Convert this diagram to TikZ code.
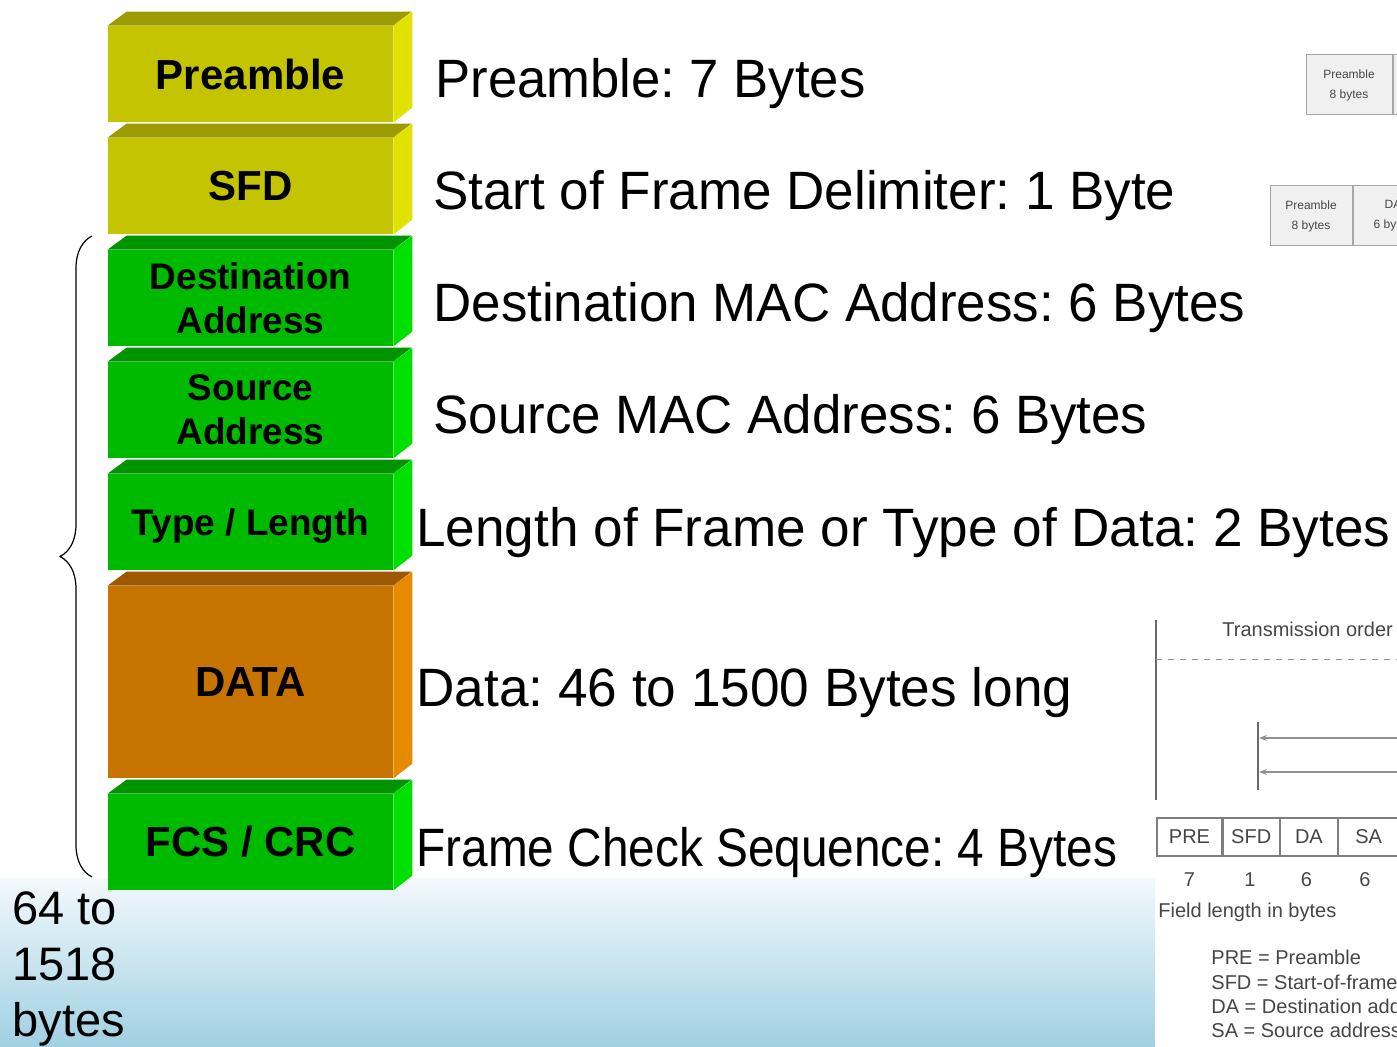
\documentclass[tikz,border=0pt]{standalone}
\usepackage{fontspec}
\setmainfont{Liberation Sans}
\usepackage{graphicx}
\usetikzlibrary{decorations.pathreplacing,arrows.meta}

\definecolor{yelF}{RGB}{196,196,0}
\definecolor{yelT}{RGB}{156,156,0}
\definecolor{yelR}{RGB}{226,226,0}
\definecolor{grnF}{RGB}{0,186,0}
\definecolor{grnT}{RGB}{0,148,0}
\definecolor{grnR}{RGB}{0,224,0}
\definecolor{orgF}{RGB}{199,116,0}
\definecolor{orgT}{RGB}{158,88,0}
\definecolor{orgR}{RGB}{230,138,0}
\definecolor{scan}{RGB}{70,70,70}
\definecolor{skyA}{RGB}{242,249,252}
\definecolor{skyB}{RGB}{165,220,238}
\definecolor{skyC}{RGB}{160,208,226}

% squeeze a line of text to a given width
\newcommand{\fitto}[2]{\resizebox{#1}{\height}{#2}}

\begin{document}
\frenchspacing
\begin{tikzpicture}[x=0.5pt,y=-0.5pt,
  face/.style={rectangle,inner sep=0pt,minimum width=142.5pt,minimum height=48pt,align=center,font=\bfseries\fontsize{21}{25}\selectfont},
  twoline/.style={font=\bfseries\fontsize{18.5}{22}\selectfont},
  info/.style={anchor=base west,inner sep=0pt,font=\fontsize{27}{32}\selectfont},
  scantxt/.style={inner sep=0pt,text=scan,font=\fontsize{10}{12}\selectfont},
  cell/.style={draw=scan!70,line width=0.6pt,inner sep=0pt,minimum height=19pt,text=scan,font=\fontsize{10}{12}\selectfont},
  frag/.style={draw=gray!70,fill=gray!12,line width=0.5pt,inner sep=0pt,minimum height=30pt,align=center,text=scan,font=\fontsize{6}{10}\selectfont}]
\useasboundingbox (0,0) rectangle (1397,1047);
\clip (0,0) rectangle (1397,1047);
\fill[white] (0,0) rectangle (1397,1047);

% sky strip at the bottom
\shade[top color=skyA,middle color=skyB,bottom color=skyC] (0,878) rectangle (1155,1047);

% frame fields
\node[face,fill=yelF] (pre) at (250.5,74) {Preamble};
\fill[yelT] (pre.north west) -- ++(19,-14) -- ++(285,0) -- (pre.north east) -- cycle;
\fill[yelR] (pre.north east) -- ++(19,-14) -- ++(0,96) -- (pre.south east) -- cycle;

\node[face,fill=yelF] (sfd) at (250.5,186) {SFD};
\fill[yelT] (sfd.north west) -- ++(19,-14) -- ++(285,0) -- (sfd.north east) -- cycle;
\fill[yelR] (sfd.north east) -- ++(19,-14) -- ++(0,96) -- (sfd.south east) -- cycle;

\node[face,twoline,fill=grnF] (dst) at (250.5,298) {Destination\\Address};
\fill[grnT] (dst.north west) -- ++(19,-14) -- ++(285,0) -- (dst.north east) -- cycle;
\fill[grnR] (dst.north east) -- ++(19,-14) -- ++(0,96) -- (dst.south east) -- cycle;

\node[face,twoline,fill=grnF] (src) at (250.5,410) {Source\\Address};
\fill[grnT] (src.north west) -- ++(19,-14) -- ++(285,0) -- (src.north east) -- cycle;
\fill[grnR] (src.north east) -- ++(19,-14) -- ++(0,96) -- (src.south east) -- cycle;

\node[face,twoline,fill=grnF,text depth=0pt] (typ) at (250.5,522) {Type / Length};
\fill[grnT] (typ.north west) -- ++(19,-14) -- ++(285,0) -- (typ.north east) -- cycle;
\fill[grnR] (typ.north east) -- ++(19,-14) -- ++(0,96) -- (typ.south east) -- cycle;

\node[face,fill=orgF,minimum height=96pt] (dat) at (250.5,682) {DATA};
\fill[orgT] (dat.north west) -- ++(19,-14) -- ++(285,0) -- (dat.north east) -- cycle;
\fill[orgR] (dat.north east) -- ++(19,-14) -- ++(0,192) -- (dat.south east) -- cycle;

\node[face,fill=grnF] (fcs) at (250.5,842) {FCS / CRC};
\fill[grnT] (fcs.north west) -- ++(19,-14) -- ++(285,0) -- (fcs.north east) -- cycle;
\fill[grnR] (fcs.north east) -- ++(19,-14) -- ++(0,96) -- (fcs.south east) -- cycle;

% descriptions
\node[info] (tpre) at (435,98) {\fitto{215pt}{Preamble: 7 Bytes}};
\node[info] (tsfd) at (433,210) {\fitto{371pt}{Start of Frame Delimiter: 1 Byte}};
\node[info] (tdst) at (433,322) {\fitto{406pt}{Destination MAC Address: 6 Bytes}};
\node[info] (tsrc) at (433,434) {\fitto{357pt}{Source MAC Address: 6 Bytes}};
\node[info] (ttyp) at (416,546) {\fitto{487pt}{Length of Frame or Type of Data: 2 Bytes}};
\node[info] (tdat) at (416,706) {\fitto{328pt}{Data: 46 to 1500 Bytes long}};
\node[info] (tfcs) at (416,866) {\fitto{350.5pt}{Frame Check Sequence: 4 Bytes}};

% brace over the counted part
\coordinate (bbot) at (92,877);
\coordinate (btop) at (92,236);
\draw[line width=0.6pt,decorate,decoration={brace,amplitude=16pt}] (bbot) -- (btop);
\node[anchor=north west,inner sep=0pt,align=left,font=\fontsize{23.5}{28}\selectfont] (len) at (12,891) {64 to\\1518\\bytes};

% pieces of other figures on the right
\node[frag,minimum width=43pt] (f1a) at (1349,85) {Preamble\\8 bytes};
\node[frag,minimum width=24pt,anchor=west] (f1b) at (f1a.east) {};
\node[frag,minimum width=41pt] (f2a) at (1311,216) {Preamble\\8 bytes};
\node[frag,minimum width=40pt,anchor=west] (f2b) at (f2a.east) {DA\\6 bytes};

\fill[white] (1155,612) rectangle (1397,1047);
\draw[scan!80,line width=0.6pt] (1156,620) -- (1156,800);
\node[scantxt,anchor=west] (tord) at (1222,629) {Transmission order};
\draw[scan!60,dashed,line width=0.5pt] (1156,659) -- (1397,659);
\draw[scan!80,line width=0.6pt] (1258,722) -- (1258,790);
\coordinate (r1) at (1400,738);
\coordinate (l1) at (1259,738);
\coordinate (r2) at (1400,772);
\coordinate (l2) at (1259,772);
\draw[scan!60,line width=0.6pt,-{Stealth[length=4pt,width=3pt]}] (r1) -- (l1);
\draw[scan!60,line width=0.6pt,-{Stealth[length=4pt,width=3pt]}] (r2) -- (l2);

\node[cell,minimum width=32.5pt] (cpre) at (1189.5,837) {PRE};
\node[cell,minimum width=28pt,anchor=west] (csfd) at (cpre.east) {SFD};
\node[cell,minimum width=28.5pt,anchor=west] (cda) at (csfd.east) {DA};
\node[cell,minimum width=30pt,anchor=west] (csa) at (cda.east) {SA};
\node[cell,minimum width=30pt,anchor=west] (cnext) at (csa.east) {};
\node[scantxt] (n1) at (1189.5,880) {7};
\node[scantxt] (n2) at (1250,880) {1};
\node[scantxt] (n3) at (1306.5,880) {6};
\node[scantxt] (n4) at (1365,880) {6};
\node[scantxt,anchor=west] (flen) at (1158,912) {Field length in bytes};
\node[scantxt,anchor=west] (k1) at (1211,957) {PRE = Preamble};
\node[scantxt,anchor=west] (k2) at (1211,982) {SFD = Start-of-frame delimiter};
\node[scantxt,anchor=west] (k3) at (1211,1006) {DA = Destination address};
\node[scantxt,anchor=west] (k4) at (1211,1030) {SA = Source address};
\end{tikzpicture}
\end{document}
